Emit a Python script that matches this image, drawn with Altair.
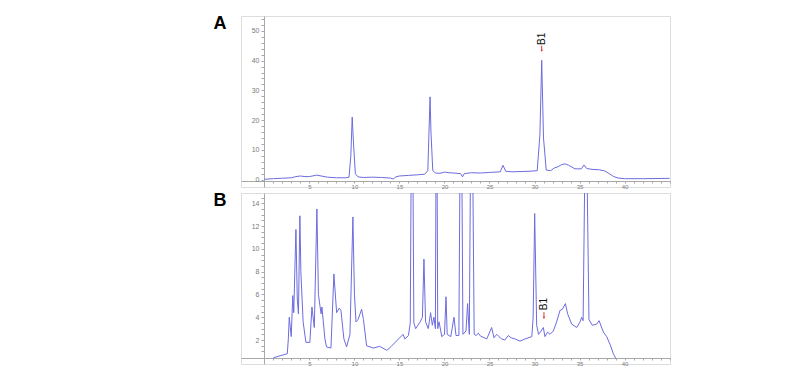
import altair as alt
import pandas as pd

# ---- Panel A chromatogram (retention time, min ; signal) ----
a_time = [0, 1, 2, 3, 3.5, 4, 4.5, 5, 5.5, 5.8, 6.3, 7, 8, 9, 9.4, 9.6, 9.75, 9.9, 10.1, 10.4,
          11, 12, 13, 14, 14.3, 14.6, 15, 16, 17, 17.8, 18.15, 18.3, 18.4, 18.5, 18.7, 19, 19.5,
          20, 20.5, 21, 21.8, 22.0, 22.2, 23, 24, 25, 26.2, 26.5, 26.8, 27.5, 28.5, 29.5, 30.3,
          30.6, 30.8, 31.0, 31.3, 31.8, 32.2, 32.6, 33.0, 33.4, 33.8, 34.5, 35.2, 35.5, 35.8,
          36.5, 37.2, 37.8, 38.3, 38.8, 39.3, 40, 42, 45]
a_signal = [0.1, 0.3, 0.45, 0.6, 1.0, 1.2, 1.0, 1.0, 1.3, 1.5, 1.2, 0.8, 0.6, 0.6, 0.8, 8, 21.0, 12, 2.0, 0.9,
            0.7, 0.8, 0.7, 0.5, 0.2, 0.9, 1.2, 1.4, 1.6, 1.8, 3, 18, 27.8, 16, 3, 2.2, 2.1,
            2.5, 2.3, 2.2, 2.0, 0.9, 2.0, 2.3, 2.2, 2.4, 2.6, 4.8, 2.8, 2.6, 2.7, 2.8, 3.0,
            15, 40.1, 14, 3.2, 3.0, 3.9, 4.3, 5.0, 5.3, 4.8, 3.6, 3.6, 4.9, 3.7,
            3.4, 3.3, 2.9, 2.0, 1.0, 0.5, 0.3, 0.3, 0.4]

# ---- Panel B chromatogram ----
b_time = [1.0, 2.54, 2.65, 2.76, 2.98, 3.15, 3.26, 3.5, 3.65, 3.78, 3.94, 4.05, 4.3, 4.61, 5.05,
          5.28, 5.54, 5.83, 6.0, 6.17, 6.3, 6.39, 6.72, 6.9, 7.39, 7.72, 8.02, 8.31, 8.5, 8.83,
          9.13, 9.5, 9.83, 10.0, 10.17, 10.4, 10.8, 11.0, 11.35, 12.1, 12.8, 13.6, 14.1, 14.9,
          15.4, 15.6, 16.0, 16.2, 16.4, 16.6, 16.8, 17.3, 17.55, 17.72, 17.9, 18.2, 18.46, 18.65,
          18.83, 18.99, 19.12, 19.25, 19.4, 19.7, 20.0, 20.17, 20.3, 20.7, 21.06, 21.28, 21.6,
          21.83, 22.05, 22.39, 22.57, 22.76, 23.0, 23.3, 23.5, 23.76, 24.0, 24.7, 25.24, 25.5,
          25.8, 26.05, 26.35, 26.7, 27.09, 27.4, 27.83, 28.39, 28.95, 29.7, 29.85, 30.02, 30.24,
          30.45, 30.65, 30.98, 31.16, 31.45, 31.72, 32.09, 32.46, 32.83, 33.1, 33.43, 33.68,
          34.13, 34.69, 35.06, 35.24, 35.4, 35.7, 36.05, 36.42, 36.9, 37.17, 37.65, 38.02, 38.4,
          38.76, 39.02]
b_signal = [0.45, 0.8, 2.0, 4.0, 2.3, 5.9, 4.4, 11.7, 5.6, 4.3, 12.9, 8, 3.6, 1.8, 1.8,
            4.9, 3.1, 13.5, 6, 5.0, 4.3, 4.9, 2.1, 1.4, 1.3, 7.8, 4.4, 4.8, 4.6, 2.1,
            1.4, 2.5, 12.8, 6, 3.6, 3.8, 4.7, 3.8, 1.5, 1.3, 1.45, 1.1, 1.45, 2.1,
            2.5, 2.1, 2.4, 3.5, 30, 3.5, 3.0, 3.6, 4.0, 9.1, 3.6, 3.0, 4.4, 3.3,
            4.0, 3.0, 30, 3.0, 3.6, 2.3, 2.5, 5.8, 2.5, 2.3, 4.0, 2.4, 2.4,
            30, 2.5, 2.8, 5.2, 2.5, 30, 2.5, 2.4, 2.6, 2.35, 2.1, 3.1, 2.2,
            2.5, 2.3, 2.1, 2.0, 2.4, 2.2, 2.1, 1.9, 2.1, 2.3, 4.0, 13.1, 3.3,
            2.5, 2.7, 3.1, 2.3, 2.7, 2.5, 2.8, 3.6, 4.6, 4.7, 5.2, 4.3,
            3.4, 3.1, 3.6, 4.0, 3.7, 25, 3.8, 3.3, 3.4, 3.7, 2.7, 2.3, 1.6,
            0.8, 0.4]

assert len(a_time) == len(a_signal)
assert len(b_time) == len(b_signal)

panel_labels = ["A", "B"]
peak_label = "B1"
peak_time = [30.8, 31.05]           # where B1 is marked in A and B
peak_text_level = [47.3, 5.15]      # signal level of the B1 text
peak_arrow_top = [45.0, 4.45]       # red arrow, top
peak_arrow_bottom = [43.3, 3.95]    # red arrow, bottom

x_domain = [-2.6, 45.05]
x_tick_values = list(range(1, 46))
a_y_domain = [-2.5, 55]
a_y_ticks = list(range(0, 55, 2))
b_y_domain = [-0.1, 14.9]
b_y_ticks = [1, 1.5, 2, 2.5, 3, 3.5, 4, 4.5, 5, 5.5, 6, 6.5, 7, 7.5, 8, 8.5, 9, 9.5, 10,
             10.5, 11, 11.5, 12, 12.5, 13, 13.5, 14, 14.5]

LINE = "#6c6cdf"
AX = "#a8a8a8"
LAB = "#7a7a7a"
RED = "#e03030"


def panel(times, values, label, ydom, yticks, ylabel_expr, idx):
    df = pd.DataFrame({"t": times, "v": values})
    xs = alt.Scale(domain=x_domain, nice=False, zero=False)
    ys = alt.Scale(domain=ydom, nice=False, zero=False)
    x_axis = alt.Axis(values=x_tick_values,
                      labelExpr="datum.value % 5 == 0 && datum.value < 45 ? format(datum.value, 'd') : ''",
                      offset=-6, title=None, grid=False, domainColor=AX, tickColor=AX,
                      tickSize=2, labelFontSize=6, labelColor=LAB, labelPadding=0,
                      labelFont="Liberation Sans", labelOverlap=False, labelFlush=False)
    y_axis = alt.Axis(values=yticks, labelExpr=ylabel_expr, offset=-23, title=None,
                      grid=False, domainColor=AX, tickColor=AX, tickSize=3,
                      labelFontSize=7, labelColor=LAB, labelPadding=2,
                      labelFont="Liberation Sans", labelOverlap=False, labelFlush=False)
    X = alt.X("t:Q", scale=xs, axis=x_axis)
    line = alt.Chart(df).mark_line(clip=True, color=LINE, strokeWidth=1).encode(
        x=X, y=alt.Y("v:Q", scale=ys, axis=y_axis))
    lab = alt.Chart(pd.DataFrame({"lab": [label]})).mark_text(
        fontSize=18, fontWeight="bold", font="Liberation Sans", align="center",
        baseline="middle", color="black").encode(
        text="lab:N", x=alt.value(-21), y=alt.value(8))
    ann = pd.DataFrame({"t": [peak_time[idx]], "v": [peak_text_level[idx]],
                        "top": [peak_arrow_top[idx]], "bot": [peak_arrow_bottom[idx]],
                        "lab": [peak_label]})
    txt = alt.Chart(ann).mark_text(angle=270, fontSize=10, font="Liberation Sans",
                                   color="#111", align="center", baseline="middle").encode(
        x=X, y=alt.Y("v:Q", scale=ys, axis=y_axis), text="lab:N")
    stem = alt.Chart(ann).mark_rule(color=RED, strokeWidth=1).encode(
        x=X, y=alt.Y("top:Q", scale=ys, axis=y_axis), y2="bot:Q")
    head = alt.Chart(ann).mark_point(shape="triangle-down", filled=True, size=6,
                                     color=RED, opacity=1).encode(
        x=X, y=alt.Y("bot:Q", scale=ys, axis=y_axis))
    return alt.layer(line, lab, txt, stem, head).properties(width=429, height=171)


pa = panel(a_time, a_signal, panel_labels[0], a_y_domain, a_y_ticks,
           "datum.value % 10 == 0 ? format(datum.value, 'd') : ''", 0)
pb = panel(b_time, b_signal, panel_labels[1], b_y_domain, b_y_ticks,
           "datum.value % 2 == 0 ? format(datum.value, 'd') : ''", 1)

chart = alt.vconcat(pa, pb, spacing=1).properties(
    padding={"left": 205, "top": 6, "right": 0, "bottom": 0}
).configure_view(stroke="#8c8c8c", strokeWidth=1).configure(background="white")

chart.save("out.html", embed_options={"renderer": "svg", "actions": False})
